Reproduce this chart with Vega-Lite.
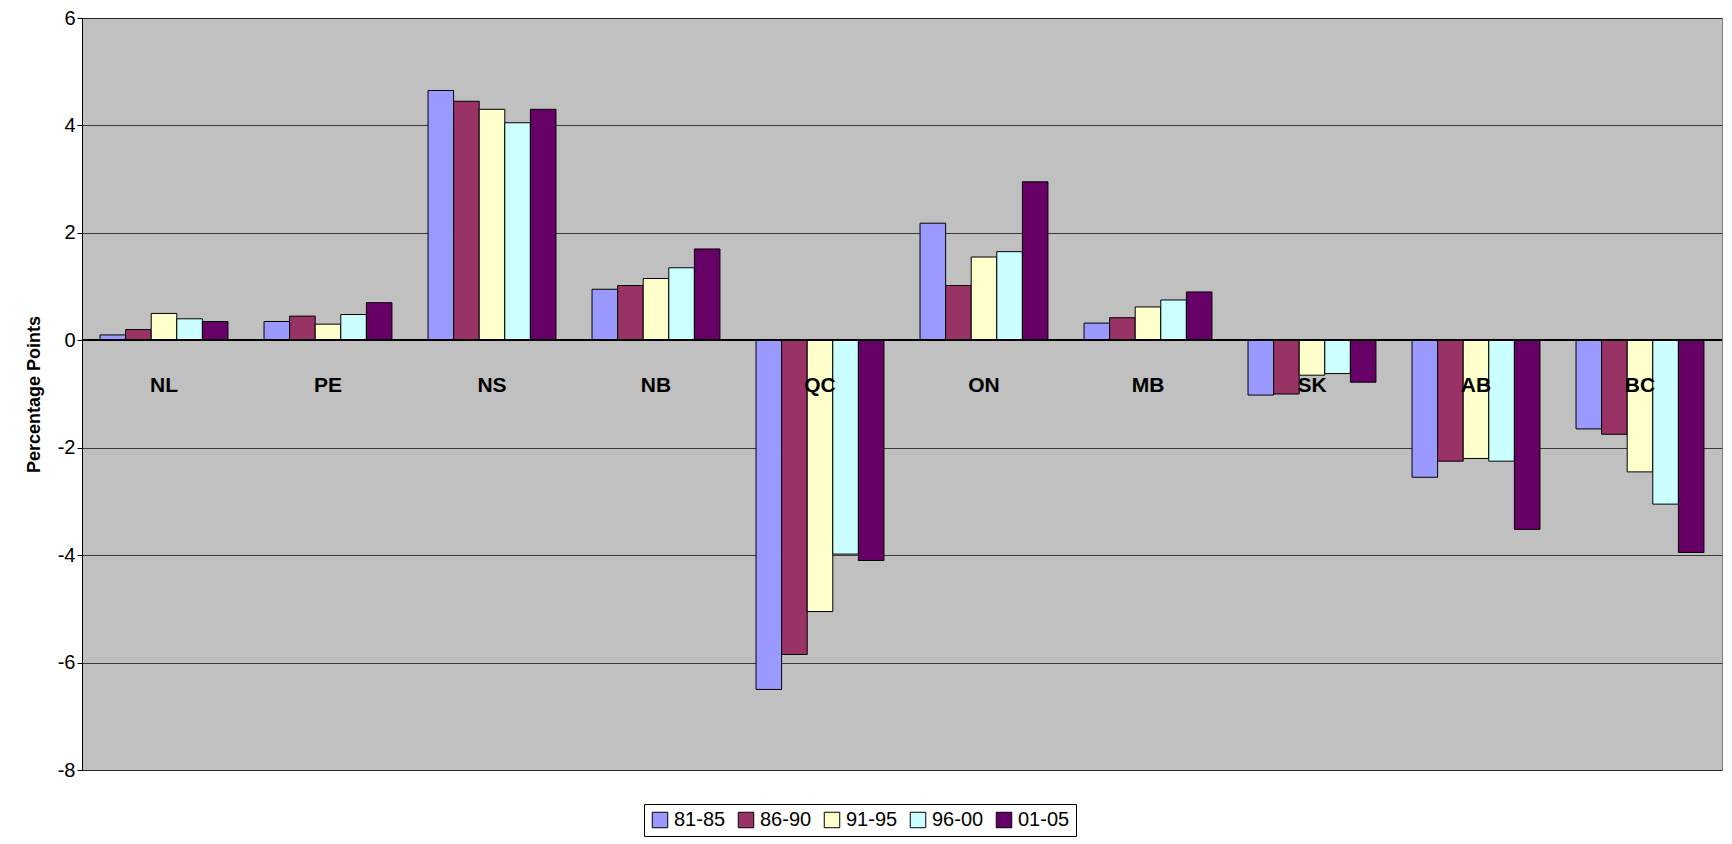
{
"$schema":"https://vega.github.io/schema/vega-lite/v6.json",
"width":1640,"height":752,
"padding":{"left":25,"top":8,"right":5,"bottom":5},
"background":"white",
"config":{"view":{"fill":"#C0C0C0","stroke":"#808080"},"font":"Liberation Sans"},
"data":{"values":[
{"p":"NL","s":"81-85","v":0.1},{"p":"NL","s":"86-90","v":0.2},{"p":"NL","s":"91-95","v":0.5},{"p":"NL","s":"96-00","v":0.4},{"p":"NL","s":"01-05","v":0.35},
{"p":"PE","s":"81-85","v":0.35},{"p":"PE","s":"86-90","v":0.45},{"p":"PE","s":"91-95","v":0.3},{"p":"PE","s":"96-00","v":0.48},{"p":"PE","s":"01-05","v":0.7},
{"p":"NS","s":"81-85","v":4.65},{"p":"NS","s":"86-90","v":4.45},{"p":"NS","s":"91-95","v":4.3},{"p":"NS","s":"96-00","v":4.05},{"p":"NS","s":"01-05","v":4.3},
{"p":"NB","s":"81-85","v":0.95},{"p":"NB","s":"86-90","v":1.02},{"p":"NB","s":"91-95","v":1.15},{"p":"NB","s":"96-00","v":1.35},{"p":"NB","s":"01-05","v":1.7},
{"p":"QC","s":"81-85","v":-6.5},{"p":"QC","s":"86-90","v":-5.85},{"p":"QC","s":"91-95","v":-5.05},{"p":"QC","s":"96-00","v":-3.98},{"p":"QC","s":"01-05","v":-4.1},
{"p":"ON","s":"81-85","v":2.18},{"p":"ON","s":"86-90","v":1.02},{"p":"ON","s":"91-95","v":1.55},{"p":"ON","s":"96-00","v":1.65},{"p":"ON","s":"01-05","v":2.95},
{"p":"MB","s":"81-85","v":0.32},{"p":"MB","s":"86-90","v":0.42},{"p":"MB","s":"91-95","v":0.62},{"p":"MB","s":"96-00","v":0.75},{"p":"MB","s":"01-05","v":0.9},
{"p":"SK","s":"81-85","v":-1.02},{"p":"SK","s":"86-90","v":-1.0},{"p":"SK","s":"91-95","v":-0.65},{"p":"SK","s":"96-00","v":-0.62},{"p":"SK","s":"01-05","v":-0.78},
{"p":"AB","s":"81-85","v":-2.55},{"p":"AB","s":"86-90","v":-2.25},{"p":"AB","s":"91-95","v":-2.2},{"p":"AB","s":"96-00","v":-2.25},{"p":"AB","s":"01-05","v":-3.52},
{"p":"BC","s":"81-85","v":-1.65},{"p":"BC","s":"86-90","v":-1.75},{"p":"BC","s":"91-95","v":-2.45},{"p":"BC","s":"96-00","v":-3.05},{"p":"BC","s":"01-05","v":-3.95}
]},
"encoding":{"x":{"field":"p","type":"nominal","sort":null,"scale":{"paddingInner":0.22,"paddingOuter":0.11},"axis":null}},
"layer":[
{"mark":{"type":"bar","stroke":"black","strokeWidth":1},
"encoding":{
"xOffset":{"field":"s","type":"nominal","sort":["81-85","86-90","91-95","96-00","01-05"]},
"y":{"field":"v","type":"quantitative","scale":{"domain":[-8,6],"nice":false},
"axis":{"values":[-8,-6,-4,-2,0,2,4,6],"labelExpr":"replace(datum.label,'−','-')","title":"Percentage Points","titleFontWeight":"bold","titleFontSize":18,"titleColor":"black","labelFontSize":20,"labelColor":"black","grid":true,"gridColor":"black","gridWidth":0.7,"domainColor":"black","tickColor":"black","titlePadding":14}},
"color":{"field":"s","type":"nominal","sort":["81-85","86-90","91-95","96-00","01-05"],
"scale":{"domain":["81-85","86-90","91-95","96-00","01-05"],"range":["#9999FF","#993366","#FFFFCC","#CCFFFF","#660066"]},
"legend":{"orient":"none","legendX":562,"legendY":786,"direction":"horizontal","title":null,"labelFontSize":20,"labelColor":"black","symbolType":"square","symbolSize":240,"symbolStrokeColor":"black","symbolStrokeWidth":1,"strokeColor":"black","padding":6,"columnPadding":10}}}},
{"mark":{"type":"rule","color":"black","strokeWidth":1},"encoding":{"y":{"datum":0}, "x":null}},
{"transform":[{"filter":"datum.s=='81-85'"}],
"mark":{"type":"text","fontWeight":"bold","fontSize":21,"color":"black"},
"encoding":{"y":{"datum":-0.85},"text":{"field":"p"}}}
]
}
